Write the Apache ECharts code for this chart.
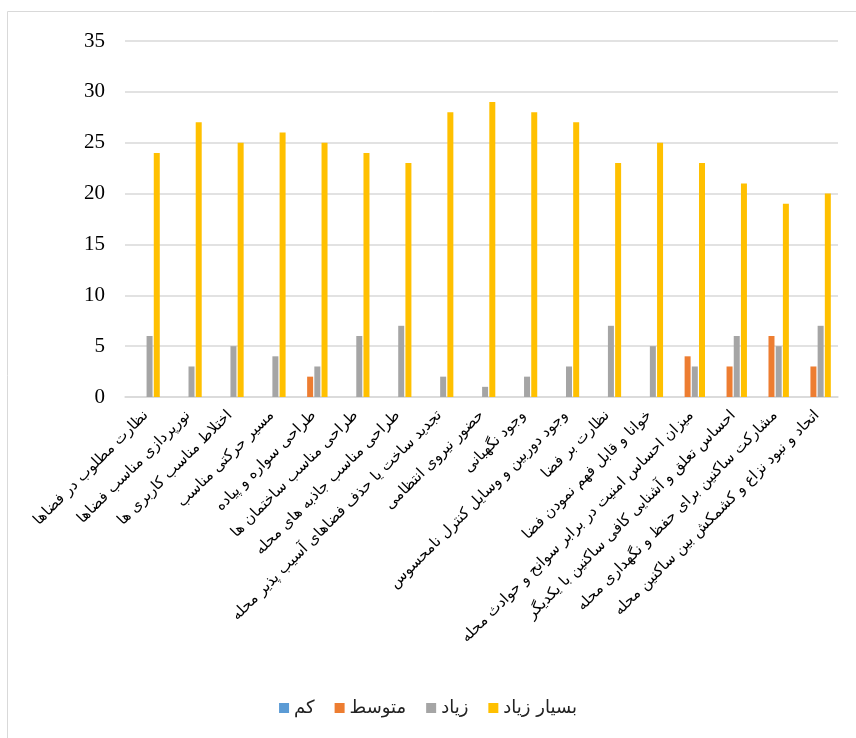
<!DOCTYPE html>
<html>
<head>
<meta charset="utf-8">
<script src="https://cdn.jsdelivr.net/npm/echarts@6/dist/echarts.min.js"></script>
<style>
  html, body { margin: 0; padding: 0; background: #fff; }
  #chart { width: 856px; height: 738px; }
</style>
</head>
<body>
<div id="chart"></div>
<script>
// دسته ها
const categories = [
  "نظارت مطلوب در فضاها",
  "نورپردازی مناسب فضاها",
  "اختلاط مناسب کاربری ها",
  "مسیر حرکتی مناسب",
  "طراحی سواره و پیاده",
  "طراحی مناسب ساختمان ها",
  "طراحی مناسب جاذبه های محله",
  "تجدید ساخت یا حذف فضاهای آسیب پذیر محله",
  "حضور نیروی انتظامی",
  "وجود نگهبانی",
  "وجود دوربین و وسایل کنترل نامحسوس",
  "نظارت بر فضا",
  "خوانا و قابل فهم نمودن فضا",
  "میزان احساس امنیت در برابر سوانح و حوادث محله",
  "احساس تعلق و آشنایی کافی ساکنین با یکدیگر",
  "مشارکت ساکنین برای حفظ و نگهداری محله",
  "اتحاد و نبود نزاع و کشمکش بین ساکنین محله"
];

const seriesNames = ["کم", "متوسط", "زیاد", "بسیار زیاد"];

const low      = [0, 0, 0, 0, 0, 0, 0, 0, 0, 0, 0, 0, 0, 0, 0, 0, 0];
const medium   = [0, 0, 0, 0, 2, 0, 0, 0, 0, 0, 0, 0, 0, 4, 3, 6, 3];
const high     = [6, 3, 5, 4, 3, 6, 7, 2, 1, 2, 3, 7, 5, 3, 6, 5, 7];
const veryHigh = [24, 27, 25, 26, 25, 24, 23, 28, 29, 28, 27, 23, 25, 23, 21, 19, 20];

const colors = ["#5B9BD5", "#ED7D31", "#A5A5A5", "#FFC000"];

const chart = echarts.init(document.getElementById("chart"));

function bar(name, data) {
  return {
    name: name,
    type: "bar",
    data: data,
    barWidth: 6,
    barGap: "20%"
  };
}

chart.setOption({
  color: colors,
  animation: false,
  grid: { left: 125, right: 18, top: 41, bottom: 341 },
  graphic: [{
    type: "rect",
    shape: { x: 7.5, y: 11.5, width: 900, height: 800 },
    style: { fill: "none", stroke: "#d9d9d9", lineWidth: 1 },
    silent: true
  }],
  legend: {
    bottom: 16,
    left: "center",
    itemWidth: 10,
    itemHeight: 10,
    itemGap: 20,
    icon: "rect",
    textStyle: { fontFamily: "DejaVu Sans", fontSize: 18, color: "#222" },
    data: seriesNames
  },
  xAxis: {
    type: "category",
    data: categories,
    axisLine: { lineStyle: { color: "#d9d9d9", width: 1.5 } },
    axisTick: { show: false },
    axisLabel: {
      interval: 0,
      rotate: 45,
      margin: 16,
      fontFamily: "DejaVu Sans",
      fontSize: 15,
      color: "#000"
    }
  },
  yAxis: {
    type: "value",
    min: 0,
    max: 35,
    interval: 5,
    axisLine: { show: false },
    axisTick: { show: false },
    splitLine: { lineStyle: { color: "#d9d9d9", width: 1.5 } },
    axisLabel: {
      margin: 20,
      fontFamily: "Liberation Serif",
      fontSize: 21,
      color: "#000"
    }
  },
  series: [
    bar(seriesNames[0], low),
    bar(seriesNames[1], medium),
    bar(seriesNames[2], high),
    bar(seriesNames[3], veryHigh)
  ]
});
</script>
</body>
</html>
